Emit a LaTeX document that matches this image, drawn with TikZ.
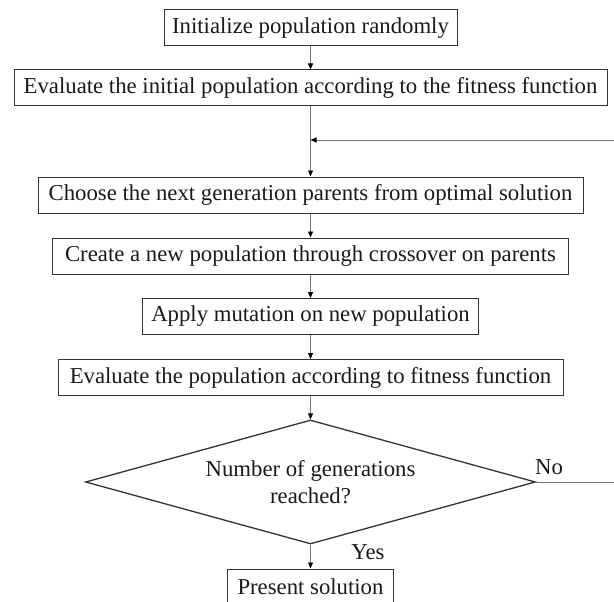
\documentclass[tikz,border=0pt]{standalone}
\usepackage{fontspec}
\setmainfont{Liberation Serif}
\usetikzlibrary{arrows.meta,shapes.geometric}
\definecolor{boxline}{HTML}{333333}
\definecolor{arrline}{HTML}{777777}
\definecolor{txt}{HTML}{1A1A1A}
\begin{document}
\begin{tikzpicture}[x=1pt,y=-1pt,
  every node/.style={text=txt,font=\fontsize{22.75}{27}\selectfont},
  procbox/.style={draw=boxline,line width=1pt,rectangle,minimum height=36pt,inner sep=0pt,anchor=center},
  decbox/.style={draw=boxline,line width=1.3pt,diamond,aspect=3.63,minimum width=450pt,minimum height=124pt,inner sep=0pt,align=center},
  flow/.style={draw=arrline,line width=0.8pt,-{Triangle[length=6pt,width=5pt,color=black]}},
  plain/.style={draw=arrline,line width=0.8pt},
  lbl/.style={inner sep=0pt}]
\useasboundingbox (0,0) rectangle (614,602);
\node[procbox,minimum width=293pt] (b1) at (310.5,28) {Initialize population randomly};
\node[procbox,minimum width=593pt] (b2) at (310.5,88) {Evaluate the initial population according to the fitness function};
\node[procbox,minimum width=545pt] (b3) at (310.5,195) {Choose the next generation parents from optimal solution};
\node[procbox,minimum width=516pt] (b4) at (310.5,256) {Create a new population through crossover on parents};
\node[procbox,minimum width=336pt] (b5) at (310.5,316.5) {Apply mutation on new population};
\node[procbox,minimum width=505pt] (b6) at (310.5,377.5) {Evaluate the population according to fitness function};
\node[decbox] (d) at (310.5,482) {Number of generations\\reached?};
\node[procbox,minimum width=166pt] (b7) at (310.5,587) {Present solution};
\node[lbl] (no) at (549,467) {No};
\node[lbl] (yes) at (368,552) {Yes};
\coordinate (join) at (310.5,140);
\coordinate (loopR) at (617,482);
\coordinate (loopT) at (617,140);
\draw[flow] (b1.south) -- (b2.north);
\draw[flow] (b2.south) -- (b3.north);
\draw[flow] (b3.south) -- (b4.north);
\draw[flow] (b4.south) -- (b5.north);
\draw[flow] (b5.south) -- (b6.north);
\draw[flow] (b6.south) -- (d.north);
\draw[flow] (d.south) -- (b7.north);
\draw[plain] (d.east) -- (loopR) -- (loopT);
\draw[flow] (loopT) -- (join);
\end{tikzpicture}
\end{document}
